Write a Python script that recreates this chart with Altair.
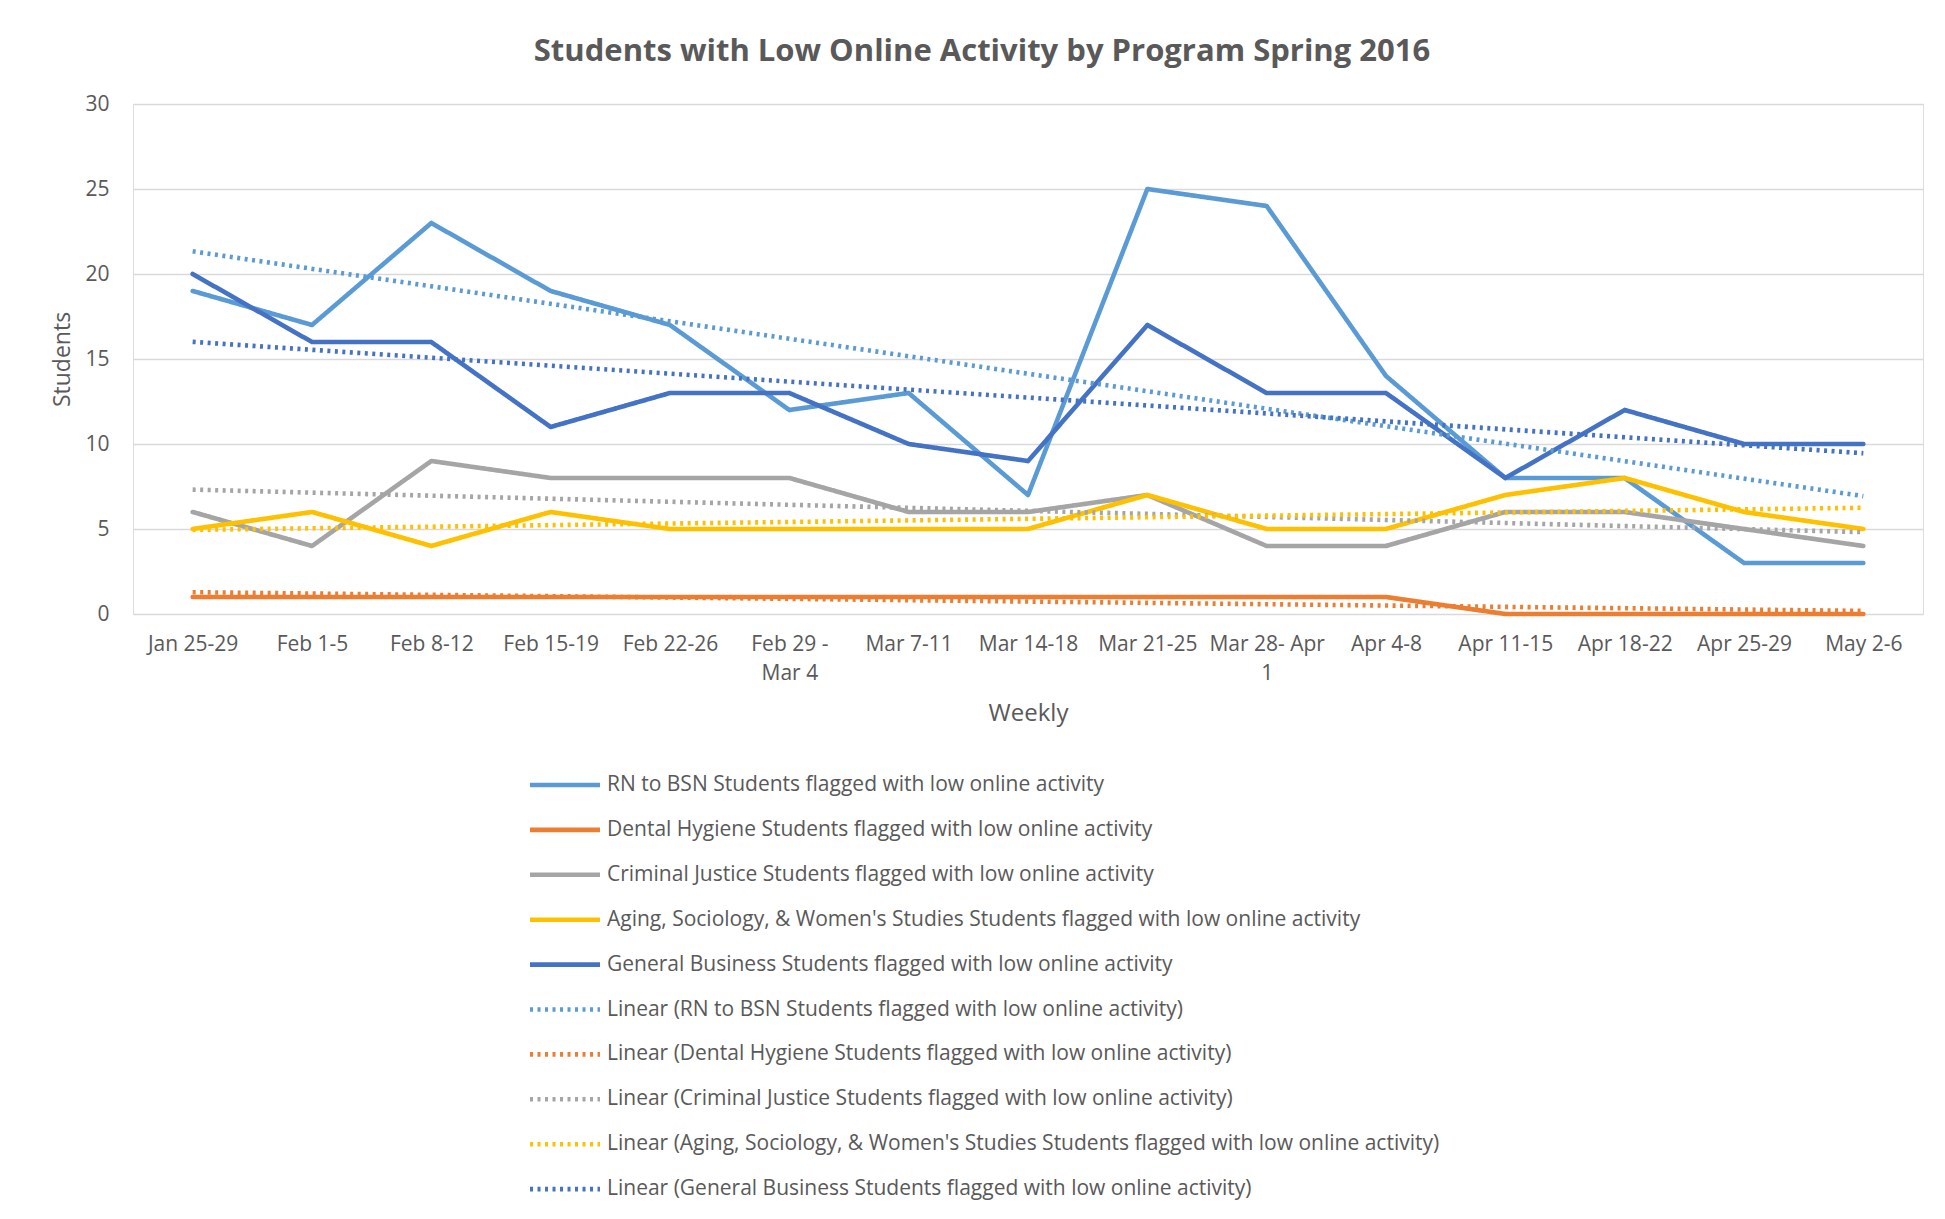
import json
import altair as alt
import pandas as pd

WEEKS = ["Jan 25-29", "Feb 1-5", "Feb 8-12", "Feb 15-19", "Feb 22-26",
         "Feb 29 -\nMar 4", "Mar 7-11", "Mar 14-18", "Mar 21-25",
         "Mar 28- Apr\n1", "Apr 4-8", "Apr 11-15", "Apr 18-22",
         "Apr 25-29", "May 2-6"]

PROGRAMS = [
    "RN to BSN Students flagged with low online activity",
    "Dental Hygiene Students flagged with low online activity",
    "Criminal Justice Students flagged with low online activity",
    "Aging, Sociology, & Women's Studies Students flagged with low online activity",
    "General Business Students flagged with low online activity",
]

RN_BSN = [19, 17, 23, 19, 17, 12, 13, 7, 25, 24, 14, 8, 8, 3, 3]
DENTAL = [1, 1, 1, 1, 1, 1, 1, 1, 1, 1, 1, 0, 0, 0, 0]
CRIMINAL = [6, 4, 9, 8, 8, 8, 6, 6, 7, 4, 4, 6, 6, 5, 4]
AGING = [5, 6, 4, 6, 5, 5, 5, 5, 7, 5, 5, 7, 8, 6, 5]
BUSINESS = [20, 16, 16, 11, 13, 13, 10, 9, 17, 13, 13, 8, 12, 10, 10]

COLORS = ["#5B9BD5", "#ED7D31", "#A5A5A5", "#FFC000", "#4472C4"]

SERIES = [RN_BSN, DENTAL, CRIMINAL, AGING, BUSINESS]

rows = []
for prog, vals in zip(PROGRAMS, SERIES):
    for i, v in enumerate(vals):
        rows.append({"program": prog, "idx": i + 1, "value": v})
df = pd.DataFrame(rows)

FONT = "Open Sans"
GREY = "#595959"

labels = PROGRAMS + ["Linear (" + p + ")" for p in PROGRAMS]
color_scale = alt.Scale(domain=labels, range=COLORS + COLORS)
dash_scale = alt.Scale(domain=labels, range=[[1, 0]] * 5 + [[3, 4.5]] * 5)
width_scale = alt.Scale(domain=labels, range=[4.6] * 5 + [3.2] * 5)

label_arr = [w.split("\n") if "\n" in w else w for w in WEEKS]
label_expr = json.dumps(label_arr) + "[datum.value - 1]"

x_enc = alt.X("idx:Q",
              scale=alt.Scale(domain=[0.5, len(WEEKS) + 0.5], nice=False, zero=False),
              axis=alt.Axis(values=list(range(1, len(WEEKS) + 1)), labelExpr=label_expr,
                            title="Weekly", grid=False, ticks=False, domain=False,
                            labelFontSize=21, labelColor=GREY, labelFont=FONT,
                            labelPadding=19, labelLineHeight=29,
                            titleFontSize=24, titleFontWeight="normal", titleColor=GREY,
                            titleFont=FONT, titleY=99, titleBaseline="middle"))
y_enc = alt.Y("value:Q",
              scale=alt.Scale(domain=[0, 30], nice=False),
              axis=alt.Axis(values=[0, 5, 10, 15, 20, 25, 30], title="Students",
                            grid=True, gridColor="#d9d9d9", gridWidth=1.4,
                            ticks=False, domain=False, labelFontSize=21,
                            labelColor=GREY, labelFont=FONT, labelPadding=24,
                            titleFontSize=23, titleFontWeight="normal", titleColor=GREY,
                            titleFont=FONT, titleX=-71, titleBaseline="middle"))

# custom horizontal-line symbol: length = 3 * sqrt(symbolSize) = 70 px
legend = alt.Legend(title=None, orient="none", legendX=418, legendY=667,
                    direction="vertical", symbolType="M-3,0L3,0", symbolSize=544,
                    labelFontSize=21, labelColor=GREY, labelFont=FONT,
                    labelOffset=28, rowPadding=20.9, labelLimit=0)

enc = dict(
    x=x_enc, y=y_enc,
    color=alt.Color("label:N", scale=color_scale, legend=legend),
    strokeDash=alt.StrokeDash("label:N", scale=dash_scale, legend=legend),
    strokeWidth=alt.StrokeWidth("label:N", scale=width_scale, legend=legend),
)

base = alt.Chart(df)

lines = base.transform_calculate(label="datum.program").mark_line(
    strokeJoin="round", strokeCap="round").encode(**enc)

trend = base.transform_regression(
    "idx", "value", groupby=["program"]
).transform_calculate(
    label="'Linear (' + datum.program + ')'"
).mark_line(strokeCap="butt").encode(**enc)

chart = alt.layer(lines, trend).properties(
    width=1790, height=510,
    title=alt.TitleParams("Students with Low Online Activity by Program Spring 2016",
                          fontSize=31, fontWeight="bold", color=GREY, font=FONT,
                          anchor="middle", offset=25, dx=-46),
    autosize=alt.AutoSizeParams(type="none"),
    padding={"left": 125, "top": 96, "right": 14, "bottom": 597},
).configure_view(stroke=None).configure(background="white")

chart.save("out.html", embed_options={"renderer": "svg", "actions": False})
